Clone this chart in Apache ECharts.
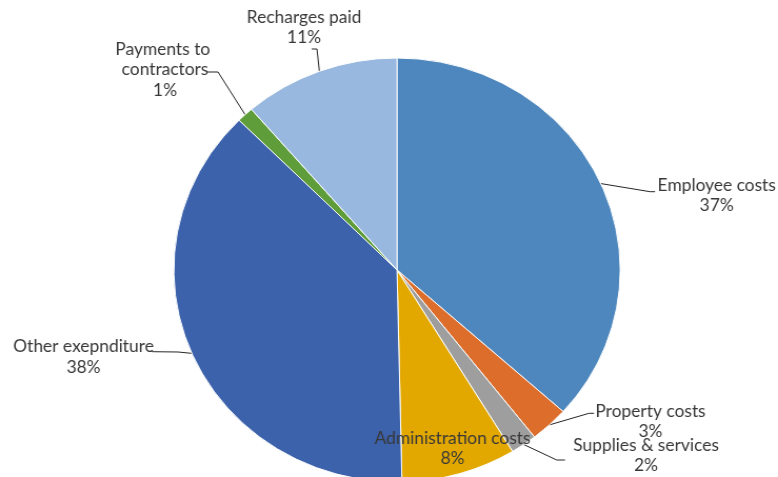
<!DOCTYPE html>
<html>
<head>
<meta charset="utf-8">
<script src="https://cdn.jsdelivr.net/npm/echarts@6/dist/echarts.min.js"></script>
<style>
  html, body { margin: 0; padding: 0; background: #ffffff; overflow: hidden; }
  #wrap { width: 778px; height: 477px; overflow: hidden; position: relative; }
  /* the pie is drawn slightly wider than tall */
  #chart { width: 739px; height: 477px; transform: scaleX(1.0528); transform-origin: 0 0; }
</style>
</head>
<body>
<div id="wrap"><div id="chart"></div></div>
<script>
// Expenditure breakdown, clockwise from 12 o'clock
const categories = [
  'Employee costs',
  'Property costs',
  'Supplies & services',
  'Administration costs',
  'Other exepnditure',
  'Payments to contractors',
  'Recharges paid'
];
const shares = [36.6, 2.8, 1.9, 8.3, 37.8, 1.2, 11.3];
const sliceColors = ['#4E87BD', '#DC6D2B', '#9E9E9E', '#E2A800', '#3C62AB', '#5E9D3A', '#98B8DF'];

// horizontal stretch applied to the drawing
const SX = 778 / 739;

// label placement on the page: centre x, middle y, leader-line bends after the slice edge
const labelSpots = [
  { x: 716.7, y: 195.5, line: [[650, 191.7], [655, 191.7]] },
  { x: 650.5, y: 421.5, line: [[589, 413.3], [594, 413.3]] },
  { x: 646.0, y: 455.5, line: [[556.7, 460], [565, 460]] },
  { x: 452.5, y: 448.5, line: null },
  { x: 83.5,  y: 357.0, line: [[178, 352], [152, 351.7]] },
  { x: 165.0, y: 70.0,  line: [[218, 72], [207, 72]] },
  { x: 304.0, y: 27.5,  line: [[317, 49], [311.7, 49]] }
];

const chart = echarts.init(document.getElementById('chart'), null, { renderer: 'canvas' });

const pieData = categories.map(function (name, i) {
  const item = {
    name: name,
    value: shares[i],
    itemStyle: { color: sliceColors[i] }
  };
  if (!labelSpots[i].line) item.labelLine = { show: false };
  if (name === 'Payments to contractors') item.label = { width: 98, overflow: 'break' };
  return item;
});

chart.setOption({
  animation: false,
  backgroundColor: '#ffffff',
  series: [{
    type: 'pie',
    center: [397 / SX, 270],
    radius: 212,
    startAngle: 90,
    clockwise: true,
    avoidLabelOverlap: false,
    percentPrecision: 0,
    itemStyle: { borderColor: '#ffffff', borderWidth: 1 },
    label: {
      show: true,
      position: 'outside',
      formatter: '{b}\n{d}%',
      fontFamily: 'Lato',
      fontSize: 16.5,
      lineHeight: 20.5,
      color: '#383838',
      align: 'center'
    },
    labelLine: {
      show: true,
      lineStyle: { color: '#262626', width: 1 }
    },
    labelLayout: function (p) {
      const spot = labelSpots[p.dataIndex];
      const out = { x: spot.x / SX, y: spot.y, align: 'center', verticalAlign: 'middle' };
      if (spot.line && p.labelLinePoints) {
        out.labelLinePoints = [p.labelLinePoints[0]].concat(
          spot.line.map(function (q) { return [q[0] / SX, q[1]]; })
        );
      }
      return out;
    },
    emphasis: { disabled: true },
    data: pieData
  }]
});
</script>
</body>
</html>
